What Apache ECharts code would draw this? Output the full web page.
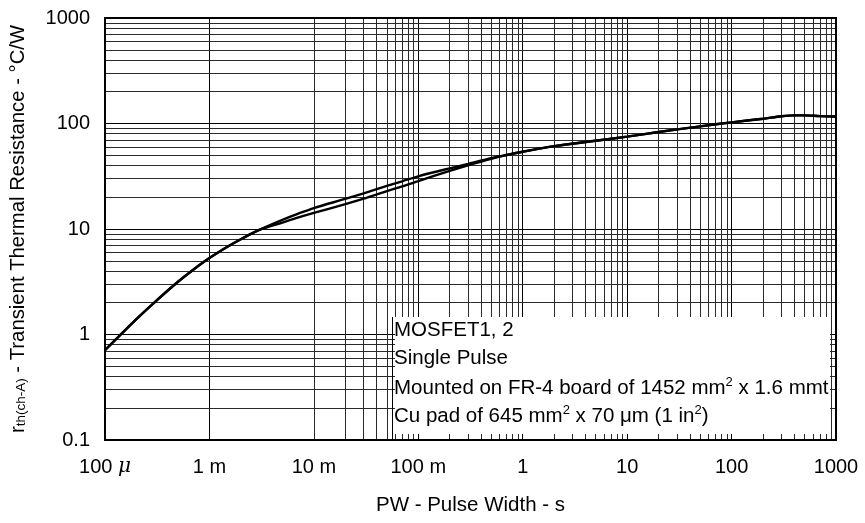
<!DOCTYPE html>
<html>
<head>
<meta charset="utf-8">
<script src="https://cdn.jsdelivr.net/npm/echarts@6/dist/echarts.min.js"></script>
<style>
html,body{margin:0;padding:0;background:#fff;}
#chart{width:865px;height:523px;}
</style>
</head>
<body>
<div id="chart"></div>
<script>
// Pulse width (s)
const pulseWidth = [1e-4, 2e-4, 3e-4, 5e-4, 7e-4, 1e-3, 1.5e-3, 2e-3, 3e-3, 5e-3, 7e-3, 0.01, 0.02, 0.03, 0.05, 0.07, 0.1, 0.2, 0.3, 0.5, 0.7, 1, 2, 5, 10, 20, 50, 100, 200, 300, 400, 500, 700, 1000];
// Transient thermal resistance (°C/W), upper curve
const rthUpper = [0.71, 1.40, 2.03, 3.16, 4.11, 5.3, 6.82, 8.0, 9.8, 12.2, 13.9, 15.8, 19.3, 21.8, 25.6, 28.3, 31.6, 37.6, 41.4, 46.9, 50.3, 54, 61, 68.7, 75, 83, 94, 102.6, 111, 117, 119.5, 119.5, 117.5, 116.5];
// lower curve
const rthLower = [0.71, 1.40, 2.03, 3.16, 4.11, 5.3, 6.82, 8.0, 9.8, 11.5, 12.8, 14.2, 17.2, 19.4, 22.9, 25.3, 28.4, 35.6, 40.2, 46.3, 50.2, 54, 61, 68.7, 75, 83, 94, 102.6, 111, 117, 119.5, 119.5, 117.5, 116.5];
// tick labels
const xTickValues = [1e-4, 1e-3, 1e-2, 1e-1, 1, 10, 100, 1000];
const xTickLabels = ['100 {i|μ}', '1 m', '10 m', '100 m', '1', '10', '100', '1000'];
const yTickValues = [0.1, 1, 10, 100, 1000];
const yTickLabels = ['0.1', '1', '10', '100', '1000'];
// minor grid lines (2..9 within each decade)
const xDecades = [1e-4, 1e-3, 1e-2, 1e-1, 1, 10, 100];
const yDecades = [0.1, 1, 10, 100];
const minorSteps = [2, 3, 4, 5, 6, 7, 8, 9];
const noteLines = [
  'MOSFET1, 2',
  'Single Pulse',
  'Mounted on FR-4 board of 1452 mm{sup|2} x 1.6 mmt',
  'Cu pad of 645 mm{sup|2} x 70 μm (1 in{sup|2})'
];

const FONT = '"Liberation Sans", Arial, sans-serif';
function near(a, b) { return Math.abs(Math.log10(a) - Math.log10(b)) < 1e-6; }

const xMinor = [];
xDecades.forEach(d => minorSteps.forEach(k => xMinor.push({ xAxis: +(d * k).toPrecision(6) })));
const yMinor = [];
yDecades.forEach(d => minorSteps.forEach(k => yMinor.push({ yAxis: +(d * k).toPrecision(6) })));

const chart = echarts.init(document.getElementById('chart'), null, { renderer: 'canvas' });

const gridLeft = 105, gridTop = 18, gridRight = 29, gridBottom = 83;

function gridSeries(name, data) {
  return {
    type: 'line', name: name, data: [], silent: true, z: 1,
    markLine: {
      silent: true, z: 1, symbol: ['none', 'none'], label: { show: false },
      lineStyle: { color: '#2a2a2a', width: 1, type: 'solid' },
      emphasis: { disabled: true },
      data: data
    }
  };
}

chart.setOption({
  animation: false,
  backgroundColor: '#fff',
  textStyle: { fontFamily: FONT },
  grid: {
    left: gridLeft, right: gridRight, top: gridTop, bottom: gridBottom,
    show: true, borderColor: '#000', borderWidth: 2, backgroundColor: 'transparent', z: 5
  },
  xAxis: {
    type: 'log', logBase: 10, min: 1e-4, max: 1000, splitNumber: 7,
    axisLine: { show: true, lineStyle: { color: '#000', width: 2 } },
    axisTick: { show: false },
    splitLine: { show: true, lineStyle: { color: '#000', width: 1 } },
    minorTick: { show: false }, minorSplitLine: { show: false },
    axisLabel: {
      margin: 17, color: '#000', fontSize: 20, fontFamily: FONT,
      formatter: function (v) {
        for (let i = 0; i < xTickValues.length; i++) if (near(v, xTickValues[i])) return xTickLabels[i];
        return '';
      },
      rich: { i: { fontStyle: 'italic', fontSize: 20, fontFamily: '"DejaVu Serif", serif', color: '#000' } }
    },
    name: 'PW - Pulse Width - s', nameLocation: 'middle', nameGap: 55,
    nameTextStyle: { color: '#000', fontSize: 20.5, fontFamily: FONT }
  },
  yAxis: {
    type: 'log', logBase: 10, min: 0.1, max: 1000, splitNumber: 4,
    axisLine: { show: true, lineStyle: { color: '#000', width: 2 } },
    axisTick: { show: false },
    splitLine: { show: true, lineStyle: { color: '#000', width: 1 } },
    minorTick: { show: false }, minorSplitLine: { show: false },
    axisLabel: {
      margin: 15, color: '#000', fontSize: 20, fontFamily: FONT,
      formatter: function (v) {
        for (let i = 0; i < yTickValues.length; i++) if (near(v, yTickValues[i])) return yTickLabels[i];
        return '';
      }
    },
    name: '{n|r}{s|th(ch-A)}{n| - Transient Thermal Resistance - °C/W}',
    nameLocation: 'middle', nameGap: 77, nameRotate: 90,
    nameTextStyle: {
      color: '#000', fontFamily: FONT,
      rich: {
        n: { fontSize: 20.3, fontFamily: FONT, color: '#000', verticalAlign: 'bottom', lineHeight: 23 },
        s: { fontSize: 13.5, fontFamily: FONT, color: '#000', verticalAlign: 'bottom', lineHeight: 17 }
      }
    }
  },
  series: [
    gridSeries('grid-x', xMinor),
    gridSeries('grid-y', yMinor),
    {
      type: 'line', name: 'upper', z: 10,
      data: pulseWidth.map((x, i) => [x, rthUpper[i]]),
      showSymbol: false, smooth: 0.3,
      lineStyle: { color: '#000', width: 2.4 }
    },
    {
      type: 'line', name: 'lower', z: 10,
      data: pulseWidth.map((x, i) => [x, rthLower[i]]),
      showSymbol: false, smooth: 0.3,
      lineStyle: { color: '#000', width: 2.4 }
    }
  ],
  graphic: [
    {
      type: 'rect', z: 3, silent: true,
      shape: { x: 395, y: 317, width: 435, height: 117 },
      style: { fill: '#fff', stroke: null }
    },
    {
      type: 'line', z: 4, silent: true,
      shape: { x1: 392.5, y1: 317, x2: 392.5, y2: 439 },
      style: { stroke: '#000', lineWidth: 1 }
    }
  ].concat(noteLines.map((t, i) => ({
    type: 'text', z: 6, silent: true,
    left: 394, top: 320 + i * 28,
    style: {
      text: t, fill: '#000', font: '20.5px ' + FONT,
      rich: {
        sup: { fontSize: 13, fontFamily: FONT, fill: '#000', verticalAlign: 'top', lineHeight: 24, padding: [0, 0, 9, 0] }
      }
    }
  })))
});
</script>
</body>
</html>
